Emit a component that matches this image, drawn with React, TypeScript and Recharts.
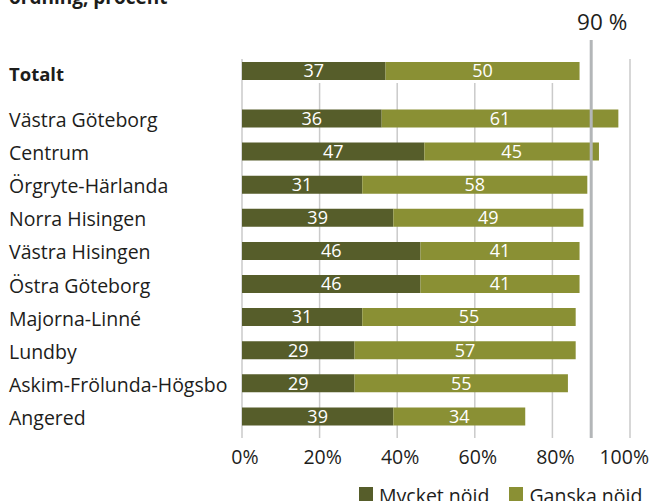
import { BarChart, Bar, XAxis, YAxis, CartesianGrid, ReferenceLine, LabelList } from "recharts";

// ---- data ----------------------------------------------------------
const totalCategory = ["Totalt"];
const totalMycket = [37];
const totalGanska = [50];

const districts = [
  "Västra Göteborg",
  "Centrum",
  "Örgryte-Härlanda",
  "Norra Hisingen",
  "Västra Hisingen",
  "Östra Göteborg",
  "Majorna-Linné",
  "Lundby",
  "Askim-Frölunda-Högsbo",
  "Angered",
];
const mycketNoid = [36, 47, 31, 39, 46, 46, 31, 29, 29, 39];
const ganskaNoid = [61, 45, 58, 49, 41, 41, 55, 57, 55, 34];

const seriesNames = ["Mycket nöid", "Ganska nöid"];
const xTicks = [0, 20, 40, 60, 80, 100];
const target = 90;

// ---- styles --------------------------------------------------------
const DARK = "#565d2a";
const LIGHT = "#8a9034";
const GRID = "#cacaca";
const TARGET = "#b3b6b8";
const TEXT = "#1d1d1b";
const FONT = "'Open Sans', sans-serif";
const CHART_W = 652;

const totalData = totalCategory.map((name, i) => ({
  name,
  mycket: totalMycket[i],
  ganska: totalGanska[i],
}));
const districtData = districts.map((name, i) => ({
  name,
  mycket: mycketNoid[i],
  ganska: ganskaNoid[i],
}));

function CategoryTick(props: any) {
  const { y, payload, bold } = props;
  return (
    <text
      x={9}
      y={y}
      dy={bold ? 10 : 9}
      textAnchor="start"
      fontSize={bold ? 18.5 : 19.5}
      fontWeight={bold ? 700 : 400}
      fill={TEXT}
      fontFamily={FONT}
    >
      {payload.value}
    </text>
  );
}

function PercentTick(props: any) {
  const { x, y, payload } = props;
  // keep the last label inside the picture
  const nearEdge = x + 26 > CHART_W;
  return (
    <text
      x={nearEdge ? CHART_W - 3 : x + 3}
      y={y}
      dy={26}
      textAnchor={nearEdge ? "end" : "middle"}
      fontSize={19.5}
      fill={TEXT}
      fontFamily={FONT}
    >
      {payload.value}%
    </text>
  );
}

// target line, the top chart draws it a bit above the plot and puts the label on it
function makeTargetShape(withLabel: boolean) {
  return (props: any) => {
    const { x1, y1, y2 } = props;
    const top = Math.min(y1, y2);
    const bottom = Math.max(y1, y2);
    return (
      <g>
        <line
          x1={x1}
          x2={x1}
          y1={withLabel ? top - 19 : top}
          y2={bottom}
          stroke={TARGET}
          strokeWidth={3}
        />
        {withLabel && (
          <text x={x1 + 11} y={30} textAnchor="middle" fontSize={22.5} fill={TEXT} fontFamily={FONT}>
            {target} %
          </text>
        )}
      </g>
    );
  };
}

export default function App() {
  const labelStyle = { fill: "#fff", fontSize: 18, fontFamily: FONT };
  return (
    <div
      style={{
        position: "absolute",
        left: 0,
        top: 0,
        width: 652,
        height: 501,
        overflow: "hidden",
        background: "#fff",
        fontFamily: FONT,
      }}
    >
      <div
        style={{
          position: "absolute",
          left: 9,
          top: -12,
          fontSize: 19,
          lineHeight: "19px",
          fontWeight: 700,
          color: TEXT,
          whiteSpace: "nowrap",
        }}
      >
        ordning, procent
      </div>

      {/* Totalt */}
      <div style={{ position: "absolute", left: 0, top: 0 }}>
        <BarChart
          width={CHART_W}
          height={95}
          data={totalData}
          layout="vertical"
          margin={{ top: 59, right: 22, bottom: 12, left: 0 }}
        >
          <CartesianGrid horizontal={false} stroke={GRID} strokeWidth={1.5} />
          <XAxis
            type="number"
            domain={[0, 100]}
            ticks={xTicks}
            height={0}
            tick={false}
            axisLine={false}
            tickLine={false}
          />
          <YAxis
            type="category"
            dataKey="name"
            width={242}
            axisLine={false}
            tickLine={false}
            tick={<CategoryTick bold />}
          />
          <ReferenceLine x={target} shape={makeTargetShape(true)} />
          <Bar dataKey="mycket" stackId="a" fill={DARK} barSize={18} isAnimationActive={false}>
            <LabelList dataKey="mycket" position="center" {...labelStyle} />
          </Bar>
          <Bar dataKey="ganska" stackId="a" fill={LIGHT} barSize={18} isAnimationActive={false}>
            <LabelList dataKey="ganska" position="center" {...labelStyle} />
          </Bar>
        </BarChart>
      </div>

      {/* districts */}
      <div style={{ position: "absolute", left: 0, top: 83 }}>
        <BarChart
          width={CHART_W}
          height={438}
          data={districtData}
          layout="vertical"
          margin={{ top: 0, right: 22, bottom: 0, left: 0 }}
        >
          <CartesianGrid horizontal={false} stroke={GRID} strokeWidth={1.5} />
          <XAxis
            type="number"
            domain={[0, 100]}
            ticks={xTicks}
            height={83}
            tickSize={0}
            tickMargin={0}
            axisLine={false}
            tickLine={false}
            tick={<PercentTick />}
          />
          <YAxis
            type="category"
            dataKey="name"
            width={242}
            padding={{ top: 18.5, bottom: 5.5 }}
            axisLine={false}
            tickLine={false}
            tick={<CategoryTick />}
          />
          <ReferenceLine x={target} shape={makeTargetShape(false)} />
          <Bar dataKey="mycket" stackId="a" fill={DARK} barSize={18} isAnimationActive={false}>
            <LabelList dataKey="mycket" position="center" {...labelStyle} />
          </Bar>
          <Bar dataKey="ganska" stackId="a" fill={LIGHT} barSize={18} isAnimationActive={false}>
            <LabelList dataKey="ganska" position="center" {...labelStyle} />
          </Bar>
        </BarChart>
      </div>

      {/* legend */}
      <div
        style={{
          position: "absolute",
          left: 359,
          top: 487,
          display: "flex",
          alignItems: "flex-start",
          fontSize: 19.5,
          lineHeight: "19px",
          color: TEXT,
          whiteSpace: "nowrap",
        }}
      >
        {seriesNames.map((name, i) => (
          <div key={name} style={{ display: "flex", alignItems: "flex-start", marginRight: 20 }}>
            <span
              style={{
                display: "inline-block",
                flexShrink: 0,
                width: 14,
                height: 14,
                background: i === 0 ? DARK : LIGHT,
                marginRight: 6,
              }}
            />
            <span style={{ marginTop: -1 }}>{name}</span>
          </div>
        ))}
      </div>
    </div>
  );
}
